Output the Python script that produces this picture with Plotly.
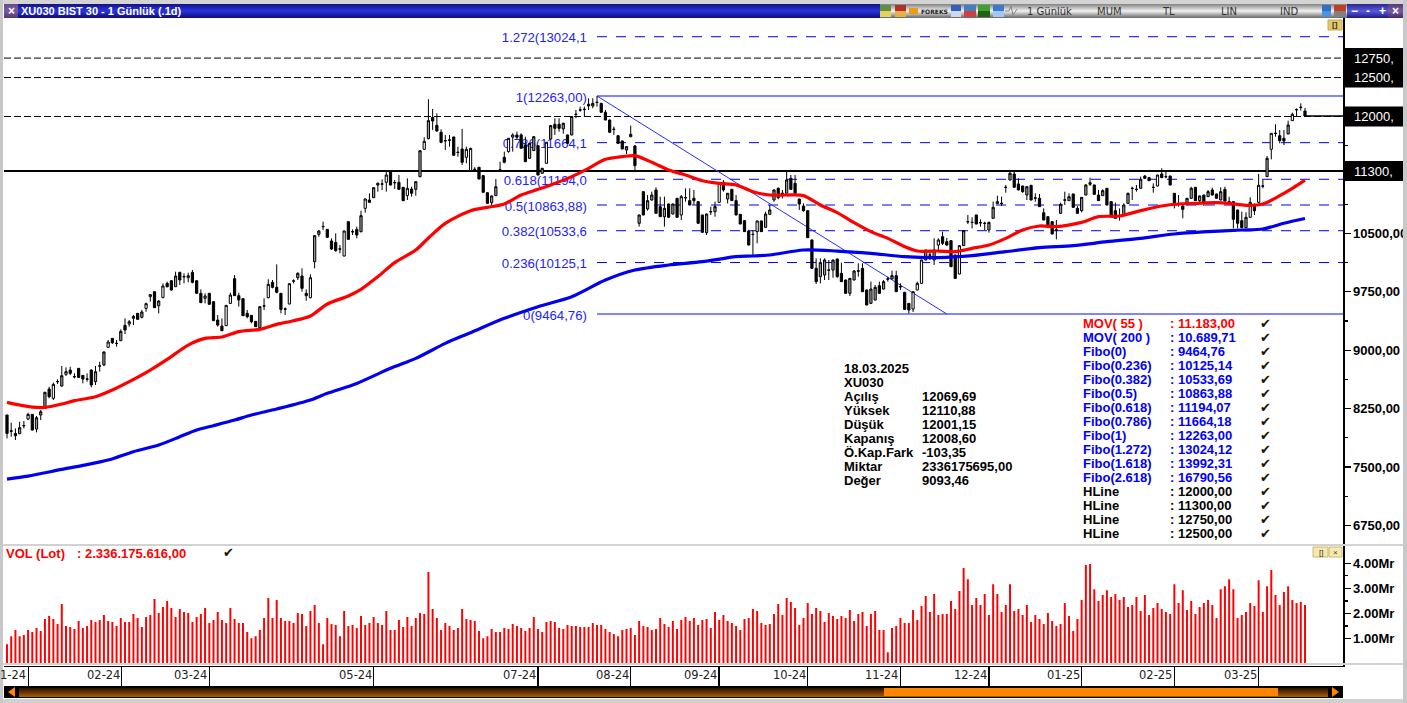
import plotly.graph_objects as go

W, H = 1407, 703

opens = [8168,7965,7932,7928,8028,8116,8176,7988,8168,8253,
8501,8382,8594,8540,8690,8745,8662,8767,8677,8632,
8745,8596,8795,8810,9037,9152,9090,9122,9319,9336,
9409,9473,9422,9537,9687,9751,9571,9678,9858,9892,
9815,9999,9946,9931,9999,9892,9730,9666,9730,9623,
9387,9310,9315,9601,9918,9700,9661,9473,9447,9370,
9289,9565,9674,9871,9807,9730,9531,9593,9886,9931,
9952,9730,9674,10136,10487,10584,10551,10402,10384,10301,
10209,10650,10523,10551,10521,10821,10928,10958,11120,11131,
11155,11292,11153,11155,11091,10984,11069,11065,11228,11579,
11716,11989,11887,11797,11692,11700,11737,11542,11583,11476,
11305,11324,11348,11241,11022,10894,10984,11311,11476,11549,
11735,11763,11763,11634,11463,11562,11626,11271,11399,11711,
11900,11900,11840,11763,11763,12030,12086,12094,12157,12135,
12184,12169,12054,11955,11838,11754,11686,11570,11741,11622,
10629,11035,10813,10928,11057,10843,10714,10877,10748,10950,
10736,10960,10920,10950,10907,10736,10509,10780,10778,10898,
11155,10941,11065,10920,10744,10663,10530,10489,10522,10659,
10577,10744,10928,11078,11016,11014,11206,11142,10941,10851,
10791,10415,10051,9944,9965,10031,10029,10171,9987,9901,
9730,9901,10019,10051,9773,9601,9644,9828,9785,9916,
9914,9957,9817,9743,9601,9529,9773,9858,10158,10224,
10158,10350,10457,10393,10406,10222,9978,10342,10652,10643,
10736,10639,10631,10543,10693,10881,10887,11093,11185,11262,
11134,11108,10992,11117,10956,10950,10765,10714,10650,10545,
10757,10930,10920,11005,10821,10791,10992,11129,11121,10992,
10984,11078,10907,10791,10725,10736,10885,11080,11067,11078,
11236,11215,11093,11108,11262,11230,11236,11014,10879,10851,
10885,10950,11091,10920,10992,10971,11057,11005,10928,11065,
10909,10907,10800,10663,10573,10706,10851,10898,11110,11228,
11579,11786,11754,11720,11776,11947,12090,12120,12069]

highs = [8170,8069,7996,8082,8091,8198,8180,8155,8232,8467,
8531,8583,8626,8797,8780,8788,8703,8772,8681,8703,
8754,8797,8852,8985,9131,9155,9131,9268,9409,9387,
9452,9478,9516,9610,9721,9756,9644,9858,9880,9901,
10008,10008,9987,9995,10029,9896,9781,9730,9735,9628,
9452,9409,9580,9738,9965,9738,9666,9516,9452,9375,
9567,9666,9910,9901,10102,9735,9550,9858,9910,10000,
10051,9781,9974,10479,10543,10650,10556,10436,10500,10350,
10535,10655,10551,10586,10791,10949,11014,11090,11155,11193,
11313,11300,11185,11249,11095,11206,11099,11168,11570,11733,
12221,12096,12041,11835,11763,11763,11741,11613,11840,11613,
11600,11350,11352,11245,11026,10985,11198,11420,11549,11725,
11784,11806,11784,11741,11660,11745,11630,11340,11673,11887,
11977,11977,11920,11768,12005,12084,12127,12127,12234,12234,
12263,12174,12084,11960,11870,11758,11690,11618,11883,11634,
10740,11040,10992,11035,11091,10971,10971,10881,10881,10954,
10992,11078,11078,11057,10912,10740,10753,10843,10907,11146,
11185,11018,11070,10992,10748,10667,10545,10543,10663,10663,
10778,10864,11065,11090,11057,11292,11249,11249,10945,10885,
10795,10423,10179,10179,10179,10158,10162,10175,10124,9905,
9926,10029,10115,10115,9777,9880,9837,9880,9901,9944,
10021,10021,9858,9748,9605,9756,9880,10162,10290,10286,
10436,10436,10522,10440,10411,10227,10346,10543,10736,10706,
10740,10680,10650,10650,10907,10984,10971,11121,11292,11292,
11206,11113,11104,11121,11014,11005,10821,10718,10654,10671,
10894,11035,11014,11010,10850,10967,11134,11215,11126,11057,
11065,11083,10912,10894,10821,10885,11022,11099,11121,11228,
11249,11225,11142,11253,11335,11292,11241,11018,10992,10885,
10954,11099,11095,10985,10997,11057,11087,11010,11091,11099,
10971,10912,10804,10778,10770,10962,10885,11262,11185,11493,
11788,11900,11827,11827,11947,12050,12105,12169,12110]

lows = [7868,7889,7847,7924,7996,8103,7970,7945,8103,8245,
8382,8360,8566,8531,8668,8681,8638,8648,8574,8596,
8523,8553,8724,8797,9032,9079,9045,9118,9208,9302,
9323,9392,9409,9494,9623,9542,9473,9666,9807,9764,
9812,9837,9858,9871,9858,9726,9606,9601,9585,9375,
9302,9246,9310,9593,9696,9559,9439,9409,9345,9298,
9276,9516,9666,9794,9730,9473,9452,9589,9858,9901,
9751,9636,9666,10051,10457,10543,10445,10286,10265,10243,
10205,10419,10479,10436,10513,10765,10894,10954,11035,11056,
11035,11116,11069,11056,10915,10928,10971,10984,11219,11570,
11707,11827,11805,11656,11570,11613,11498,11484,11377,11399,
11300,11292,11194,11023,10881,10851,10980,11292,11399,11536,
11549,11707,11588,11416,11459,11558,11245,11266,11395,11707,
11763,11805,11780,11652,11758,11977,12062,11998,12084,12105,
12127,12050,11951,11793,11763,11652,11579,11519,11733,11313,
10586,10732,10791,10920,10753,10710,10586,10700,10744,10702,
10671,10907,10860,10870,10625,10509,10479,10736,10714,10894,
11035,10885,10916,10732,10616,10518,10346,10222,10372,10518,
10573,10740,10907,10937,10950,11010,11060,11010,10800,10778,
10440,10047,9850,9858,9901,9901,9930,9930,9876,9726,
9695,9897,9944,9747,9576,9597,9640,9726,9780,9880,
9910,9747,9773,9520,9473,9490,9769,9854,10154,10158,
10094,10286,10350,10340,10068,9918,9974,10338,10620,10564,
10616,10586,10543,10509,10689,10877,10851,11022,11180,11087,
11053,11020,10928,10924,10907,10839,10667,10603,10488,10423,
10753,10864,10916,10830,10753,10770,10988,11108,10997,10916,
10980,10860,10732,10689,10663,10732,10881,10928,11035,11074,
11200,11172,11022,11104,11210,11206,11117,10821,10843,10693,
10860,10945,10916,10900,10851,10967,10988,10946,10924,10911,
10864,10564,10564,10569,10569,10702,10736,10885,11078,11224,
11450,11741,11656,11634,11772,11943,11998,12075,12001]

closes = [7932,7960,7902,8005,8033,8176,7975,8133,8210,8459,
8403,8561,8598,8673,8724,8703,8658,8651,8630,8628,
8553,8724,8799,8977,9105,9096,9086,9242,9259,9366,
9434,9396,9490,9597,9713,9546,9631,9824,9815,9773,
9952,9901,9942,9957,9871,9730,9610,9696,9589,9379,
9323,9250,9576,9708,9700,9644,9443,9430,9366,9302,
9559,9569,9845,9807,9743,9524,9527,9854,9890,9987,
9794,9700,9931,10470,10530,10588,10449,10299,10277,10297,
10530,10423,10519,10479,10727,10941,10898,11086,11142,11135,
11249,11120,11149,11065,10919,11078,11014,11163,11561,11681,
11947,11942,11814,11668,11688,11696,11502,11538,11412,11579,
11591,11320,11198,11027,10885,10980,11099,11315,11412,11720,
11763,11733,11592,11420,11656,11741,11249,11335,11669,11883,
11848,11848,11913,11656,12000,12026,12082,12090,12135,12169,
12180,12054,11955,11797,11834,11656,11583,11613,11771,11369,
10736,10736,10920,10992,10757,10714,10821,10706,10877,10706,
10971,10956,10864,10920,10629,10513,10748,10776,10843,11142,
11057,11014,10920,10736,10620,10522,10350,10485,10659,10522,
10748,10800,11057,10958,11012,11185,11065,11014,10877,10791,
10445,10051,9880,10124,10158,10027,10158,9944,9880,9730,
9922,10017,10015,9751,9580,9785,9807,9730,9880,9912,
9957,9751,9813,9524,9516,9751,9858,10158,10286,10220,
10286,10415,10372,10350,10072,9922,10342,10534,10648,10639,
10620,10635,10627,10641,10834,10907,10883,11089,11271,11091,
11057,11035,11099,10928,10952,10843,10671,10607,10492,10541,
10873,10926,10971,10834,10757,10962,11121,11151,11001,10920,
11048,10864,10736,10693,10721,10864,11014,11076,11063,11194,
11206,11176,11089,11249,11215,11226,11121,10877,10875,10808,
10950,11078,10920,10980,10894,11035,10992,10950,11035,10915,
10905,10680,10629,10573,10706,10898,10791,11117,11106,11463,
11784,11782,11690,11686,11891,12028,12086,12116,12008]

# up-candles whose narrow body reads as grey in the picture
grey_bars = {3,7,8,9,13,21,23,27,32,36,40,60,69,73,74,84,87,88,97,98,100,115,116,124,125,127,129,132,134,
             139,147,148,150,152,153,156,158,166,168,171,180,181,182,185,193,194,196,200,201,205,206,208,210,
             218,220,227,233,234,238,242,250,252,255,256,260,265,266,269,280,281,283,285,288,294,299,304}

volumes = [.78,1.10,1.34,1.10,1.14,1.34,1.26,1.42,1.30,1.78,1.90,1.78,1.58,2.38,1.50,1.46,1.38,1.70,1.42,1.50,
1.74,1.66,1.74,1.94,1.70,1.66,1.50,1.82,1.66,1.66,1.98,1.82,1.46,1.86,1.94,2.58,2.02,2.26,2.50,2.22,
1.86,2.18,2.06,2.02,1.66,1.86,1.98,2.22,1.62,1.74,2.06,1.74,1.62,2.22,1.78,1.62,1.62,1.26,1.02,1.10,
1.34,1.82,2.62,1.82,2.54,1.82,1.70,1.70,1.62,2.02,1.98,1.50,2.10,2.34,1.62,.78,1.82,1.58,1.54,1.10,
2.10,1.50,1.54,1.42,1.90,1.54,1.62,1.86,1.62,1.54,2.10,1.34,1.34,1.74,1.46,1.86,1.50,1.82,2.02,1.98,
3.65,2.18,1.82,1.34,1.62,1.50,1.34,1.42,2.18,1.78,
1.74,1.70,1.30,1.02,1.10,1.38,1.26,1.26,1.42,1.38,
1.58,1.50,1.42,1.30,1.42,1.86,1.38,1.26,1.66,1.70,
1.66,1.42,1.38,1.54,1.50,1.50,1.46,1.46,1.46,1.62,
1.54,1.54,1.38,1.26,1.18,1.10,1.34,1.38,1.42,1.14,
1.70,1.50,1.46,1.34,1.38,1.82,1.58,1.46,1.70,1.38,
1.74,1.86,1.70,1.82,1.54,1.74,1.78,1.42,2.06,1.74,
1.94,1.70,1.62,1.50,1.34,1.78,1.82,2.18,2.10,1.62,
1.54,1.58,1.98,2.38,1.94,2.62,2.46,2.22,1.54,1.82,
2.42,1.98,2.22,2.10,1.66,2.02,1.90,1.78,1.90,1.82,
2.14,1.70,1.98,2.06,1.50,1.98,2.10,1.34,1.34,.46,
1.42,1.50,1.82,1.62,1.62,2.14,1.74,2.30,2.70,2.06,
2.78,1.94,
1.98,1.98,2.50,2.18,2.90,3.81,3.37,2.34,2.62,2.34,
2.78,1.94,3.17,2.78,2.06,2.34,3.17,2.10,2.18,1.94,
2.34,1.66,1.94,1.78,1.58,2.02,1.70,1.50,1.58,2.42,
1.90,1.30,1.78,2.54,3.93,3.97,2.97,2.50,2.74,2.93,
2.66,2.78,2.54,2.66,2.26,2.34,2.66,2.10,2.74,1.94,
2.22,2.42,2.18,2.06,1.98,3.17,2.42,2.93,2.14,2.50,
1.98,2.26,2.42,2.54,2.34,1.82,2.97,3.09,3.37,2.97,
1.82,1.94,2.06,2.42,2.30,3.33,2.06,3.09,3.73,2.74,
2.34,2.86,3.09,2.54,2.42,2.46,2.34]

mov55_bar = [0,3,6,9,13,16,21,25,29,34,38,43,47,51,55,60,64,68,72,76,81,84,88,92,97,100,104,110,114,118,122,126,
129,134,138,142,146,149,153,157,161,165,169,173,177,181,185,189,193,197,201,205,209,213,216,221,225,229,233,237,
241,245,249,255,259,264,269,274,278,282,287,290,294,298,302,305,308]
mov55_val = [8330,8296,8270,8266,8309,8352,8403,8489,8596,8745,8882,9066,9152,9169,9238,9268,9332,9379,9439,9593,
9696,9781,9944,10124,10286,10440,10628,10791,10834,10877,10992,11065,11121,11228,11335,11450,11485,11497,11412,
11313,11249,11176,11142,11121,11035,10992,10992,10984,10864,10766,10637,10522,10436,10329,10273,10273,10265,
10308,10350,10436,10543,10594,10586,10641,10714,10723,10791,10851,10877,10885,10894,10885,10860,10877,10984,
11078,11183]

mov200_bar = [0,5,13,18,24,30,36,41,45,49,54,58,64,72,76,83,91,97,104,110,118,126,134,142,149,157,165,173,177,181,
189,197,205,213,221,229,237,245,253,261,269,277,285,293,298,303,308]
mov200_val = [7345,7384,7470,7521,7590,7697,7782,7889,7975,8031,8103,8168,8245,8360,8446,8574,8767,8895,9088,9225,
9409,9559,9687,9901,10029,10094,10136,10201,10209,10222,10286,10273,10243,10201,10188,10213,10265,10316,10342,
10393,10436,10492,10522,10543,10556,10629,10690]

fib_labels = ["1.272(13024,1", "1(12263,00)", "0.786(11664,1", "0.618(11194,0", "0.5(10863,88)",
              "0.382(10533,6", "0.236(10125,1", "0(9464,76)"]
fib_values = [13024.12, 12263.00, 11664.18, 11194.07, 10863.88, 10533.69, 10125.14, 9464.76]
fib_solid = {12263.00, 9464.76}
fib_start_bar = 140
fib_label_bar = 137.6
fib_diag_end_bar = 223

hline_dashed = [12750, 12500, 12000]
hline_solid = [11300]
boxed_levels = [12750, 12500, 12000, 11300]
boxed_labels = ["12750,", "12500,", "12000,", "11300,"]

price_ticks = [10500, 9750, 9000, 8250, 7500, 6750]
price_labels = ["10500,00", "9750,00", "9000,00", "8250,00", "7500,00", "6750,00"]
price_minor = [7125, 7875, 8625, 9375, 10125, 10875, 11625]
vol_ticks = [1, 2, 3, 4]
vol_labels = ["1.00Mr", "2.00Mr", "3.00Mr", "4.00Mr"]
vol_minor = [1.5, 2.5, 3.5]

month_bars = [5.1, 27.2, 48, 87, 126, 148, 169, 190, 212, 233, 255, 277, 297]
month_labels = ["1-24", "02-24", "03-24", "05-24", "07-24", "08-24", "09-24", "10-24", "11-24", "12-24", "01-25", "02-25", "03-25"]

legend_names = ["MOV( 55 )", "MOV( 200 )", "Fibo(0)", "Fibo(0.236)", "Fibo(0.382)", "Fibo(0.5)", "Fibo(0.618)", "Fibo(0.786)",
                "Fibo(1)", "Fibo(1.272)", "Fibo(1.618)", "Fibo(2.618)", "HLine", "HLine", "HLine", "HLine"]
legend_values = [": 11.183,00", ": 10.689,71", ": 9464,76", ": 10125,14", ": 10533,69", ": 10863,88", ": 11194,07", ": 11664,18",
                 ": 12263,00", ": 13024,12", ": 13992,31", ": 16790,56", ": 12000,00", ": 11300,00", ": 12750,00", ": 12500,00"]
legend_colors = ["#ff0000"] + ["#0000ff"] * 11 + ["#000000"] * 4

info_names = ["18.03.2025", "XU030", "Açılış", "Yüksek", "Düşük", "Kapanış", "Ö.Kap.Fark", "Miktar", "Değer"]
info_values = ["", "", "12069,69", "12110,88", "12001,15", "12008,60", "-103,35", "2336175695,00", "9093,46"]

n = len(opens)
assert len(highs) == n and len(lows) == n and len(closes) == n and len(volumes) == n
bars = list(range(n))
BAR_PX = (1305 - 7) / (n - 1)
x_left = (4 - 7) / BAR_PX
x_right = (1343 - 7) / BAR_PX
PX_PER_UNIT = 0.0779
y_of_px = lambda p: 12000 + (116.5 - p) / PX_PER_UNIT


def px(x):
    return x / W


def py(y):
    return 1 - y / H


shapes, annos = [], []


def rect(x0, y0, x1, y1, fill, line=None, layer="above"):
    shapes.append(dict(type="rect", xref="paper", yref="paper", x0=px(x0), x1=px(x1), y0=py(y0), y1=py(y1),
                       fillcolor=fill, line=dict(width=1 if line else 0, color=line or fill), layer=layer))


def hexmix(a, b, t):
    ca = [int(a[i:i + 2], 16) for i in (1, 3, 5)]
    cb = [int(b[i:i + 2], 16) for i in (1, 3, 5)]
    return "#%02x%02x%02x" % tuple(round(p + (q - p) * t) for p, q in zip(ca, cb))


def band(x0, x1, y0, y1, top, mid, bot):
    steps = int(y1 - y0)
    for k in range(steps):
        t = k / max(steps - 1, 1)
        c = hexmix(top, mid, t * 2) if t < 0.5 else hexmix(mid, bot, (t - 0.5) * 2)
        rect(x0, y0 + k, x1, y0 + k + 1, c)


def text(x, y, s, size=13, color="#000000", bold=False, family="Liberation Sans", anchor="left"):
    annos.append(dict(xref="paper", yref="paper", x=px(x), y=py(y), text=f"<b>{s}</b>" if bold else s,
                      showarrow=False, xanchor=anchor, yanchor="middle", borderpad=0,
                      font=dict(size=size, color=color, family=family)))


# horizontal studies, beneath the candles
for lv in hline_dashed:
    shapes.append(dict(type="line", xref="x", yref="y", x0=x_left, x1=x_right, y0=lv, y1=lv, layer="below",
                       line=dict(color="#000000", width=1, dash="7px,3px")))
for lv in hline_solid:
    shapes.append(dict(type="line", xref="x", yref="y", x0=x_left, x1=x_right, y0=lv, y1=lv, layer="below",
                       line=dict(color="#000000", width=2)))
for lab, lv in zip(fib_labels, fib_values):
    solid = lv in fib_solid
    shapes.append(dict(type="line", xref="x", yref="y", x0=fib_start_bar, x1=x_right, y0=lv, y1=lv, layer="below",
                       line=dict(color="#5a5aff" if solid else "#0000e0", width=1.5 if solid else 1,
                                 dash="solid" if solid else "10px,9px")))
    shapes.append(dict(type="line", xref="x", yref="y", x0=fib_label_bar, x1=fib_start_bar, y0=lv, y1=lv, layer="below",
                       line=dict(color="rgba(0,0,0,0)", width=0),
                       label=dict(text=lab, textposition="start", xanchor="right", yanchor="middle",
                                  font=dict(size=13.2, color="#2222ff", family="Liberation Sans"))))
shapes.append(dict(type="line", xref="x", yref="y", x0=fib_start_bar, x1=fib_diag_end_bar, y0=fib_values[1], y1=fib_values[-1],
                   layer="below", line=dict(color="#2a2aff", width=1)))

fig = go.Figure()

groups = [
    ([i for i in bars if closes[i] < opens[i]], "#000000"),
    ([i for i in bars if closes[i] >= opens[i] and i not in grey_bars], "#ffffff"),
    ([i for i in bars if closes[i] >= opens[i] and i in grey_bars], "#999999"),
]
for idx, fill in groups:
    fig.add_trace(go.Candlestick(
        x=idx, open=[opens[i] for i in idx], high=[highs[i] for i in idx], low=[lows[i] for i in idx],
        close=[closes[i] for i in idx], whiskerwidth=0, xaxis="x", yaxis="y", showlegend=False,
        increasing=dict(line=dict(color="#000000", width=1), fillcolor=fill),
        decreasing=dict(line=dict(color="#000000", width=1), fillcolor=fill)))

fig.add_trace(go.Scatter(x=mov200_bar, y=mov200_val, mode="lines", showlegend=False,
                         line=dict(color="#0000ee", width=3.2, shape="spline", smoothing=0.8)))
fig.add_trace(go.Scatter(x=mov55_bar, y=mov55_val, mode="lines", showlegend=False,
                         line=dict(color="#ff0000", width=3.2, shape="spline", smoothing=0.8)))
fig.add_trace(go.Scatter(x=[bars[-1], x_right], y=[closes[-1], closes[-1]], mode="lines", showlegend=False,
                         line=dict(color="#000000", width=1.5)))
fig.add_trace(go.Bar(x=bars, y=volumes, xaxis="x", yaxis="y2", width=0.47, showlegend=False,
                     marker=dict(color="#ff0000", line=dict(width=0))))

# separators and frame
rect(0, 544, 1403, 546, "#d2d2d2")
rect(0, 663, 1403, 665, "#d2d2d2")
rect(0, 0, W, 4, "#d4d4d4")
rect(0, 699, W, 703, "#d0d0d0")
rect(0, 0, 3, H, "#c8c8c8")
rect(1403, 0, W, H, "#c8c8c8")

# title strip
band(4, 880, 4, 18, "#14148c", "#2a34e0", "#0e0e78")
band(880, 1347, 4, 18, "#8a8a8a", "#f2f2f2", "#707070")
band(4, 18, 4, 18, "#6a4a90", "#7a5aa0", "#553a78")
band(1347, 1388, 4, 18, "#2c2c90", "#5a5ae0", "#20208a")
band(1388, 1403, 4, 18, "#5a3a80", "#7a5aa0", "#4a2a70")
text(11, 11, "×", 12, "#ffffff", True, anchor="center")
text(19.5, 11, "XU030 BIST 30 - 1 Günlük (.1d)", 11, "#ffffff", True)
for cx, s in zip([1354, 1368, 1382, 1395], ["−", "-", "+", "×"]):
    text(cx, 11, s, 12, "#ffffff", True, anchor="center")
for cx, s in zip([1049, 1109, 1168, 1229, 1289], ["1 Günlük", "MUM", "TL", "LIN", "IND"]):
    text(cx, 11, s, 10, "#333333", False, "DejaVu Sans", "center")
text(934, 11, "FOREKS", 6, "#222222", True, "DejaVu Sans", "center")
for x0, x1, c1, c2 in [(880, 891, "#5f8f3f", "#e8d060"), (895, 906, "#b03030", "#e8b040"), (951, 961, "#3060c0", "#d0d8f0"),
                       (964, 976, "#4080c0", "#d04040"), (978, 990, "#40a030", "#206010"), (993, 1004, "#3a7ad0", "#a0c8f0"),
                       (1322, 1331, "#3070c0", "#5090e0"), (1334, 1346, "#c04020", "#808080")]:
    rect(x0, 5, x1, 11, c1)
    rect(x0, 11, x1, 17, c2)
rect(909, 8, 918, 14, "#f09a10")
shapes.append(dict(type="path", xref="paper", yref="paper", layer="above",
                   path=f"M{px(1005)},{py(11)} L{px(1009)},{py(11)} L{px(1011)},{py(6)} L{px(1013)},{py(15)} L{px(1017)},{py(9)}",
                   line=dict(color="#808890", width=1)))

# chart buttons
rect(1328, 20, 1342, 30, "#e6c868", "#c8a850")
text(1335, 25, "[]", 8, "#333333", True, anchor="center")
for x0, x1, s in [(1313, 1328, "[]"), (1329, 1342, "×")]:
    rect(x0, 547, x1, 557, "#f6e9b0", "#d0b870")
    text((x0 + x1) / 2, 552, s, 8, "#333333", False, anchor="center")

# scroller
rect(4, 686, 1343, 698, "#000000")
band(19, 1328, 688, 697, "#2e1400", "#6a3500", "#a85a00")
rect(884, 688, 1278, 696, "#ff8400")
for d in (f"M{px(15)},{py(687)} L{px(15)},{py(697)} L{px(8)},{py(692)} Z",
          f"M{px(1332)},{py(687)} L{px(1332)},{py(697)} L{px(1339)},{py(692)} Z"):
    shapes.append(dict(type="path", xref="paper", yref="paper", layer="above", path=d,
                       fillcolor="#ff8400", line=dict(width=0)))

# boxed price levels
half_box = 10 / PX_PER_UNIT
for lv, s in zip(boxed_levels, boxed_labels):
    shapes.append(dict(type="rect", xref="paper", yref="y", x0=px(1345), x1=px(1403), y0=lv - half_box, y1=lv + half_box,
                       fillcolor="#000000", line=dict(width=0), layer="above"))
    annos.append(dict(xref="paper", yref="y", x=px(1352.5), y=lv, text=s, showarrow=False, xanchor="left", yanchor="middle",
                      borderpad=0, font=dict(size=13, color="#ffffff", family="Liberation Sans")))

# month labels
for b, s in zip(month_bars, month_labels):
    annos.append(dict(xref="x", yref="paper", x=b, y=py(675), text=s, showarrow=False, xanchor="right", yanchor="middle",
                      borderpad=1, font=dict(size=11.5, color="#222222", family="DejaVu Sans")))

# legend block
for k, (a, b, c) in enumerate(zip(legend_names, legend_values, legend_colors)):
    y = 323.5 + 14 * k
    text(1082, y, a, 13, c, True)
    text(1168.5, y, b, 13, c, True)
    text(1265, y, "✔", 13, "#1a1400", True, "DejaVu Sans", "center")

# info block
for k, (a, b) in enumerate(zip(info_names, info_values)):
    y = 368.5 + 14 * k
    text(843, y, a, 13, "#000000", True)
    if b:
        text(921, y, b, 13, "#000000", True)

text(5, 553, "VOL (Lot)", 13, "#ff0000", True)
text(76, 553, ": 2.336.175.616,00", 13, "#ff0000", True)
text(228, 552, "✔", 13, "#1a1400", True, "DejaVu Sans", "center")

tick_font = dict(size=13, color="#000000", family="Liberation Sans", weight=700)

fig.update_layout(
    width=W, height=H, margin=dict(l=0, r=0, t=0, b=0), autosize=False,
    paper_bgcolor="#ffffff", plot_bgcolor="#ffffff", hovermode=False, dragmode=False,
    showlegend=False, bargap=0.5, boxmode="overlay", boxgap=0.25,
    shapes=shapes, annotations=annos,
    xaxis=dict(domain=[px(4), px(1343)], range=[x_left, x_right], anchor="y2", rangeslider=dict(visible=False),
               showgrid=False, zeroline=False, showline=True, linecolor="#000000", linewidth=1.5,
               tickmode="array", tickvals=month_bars, ticktext=[""] * len(month_bars), ticks="outside", ticklen=20,
               tickwidth=1.5, tickcolor="#000000"),
    yaxis=dict(domain=[py(546), py(18)], range=[y_of_px(546), y_of_px(18)], anchor="x", side="right",
               showgrid=False, zeroline=False, showline=True, linecolor="#000000", linewidth=1.5,
               tickmode="array", tickvals=price_ticks, ticktext=price_labels, ticks="outside", ticklen=6,
               tickwidth=1.2, tickcolor="#000000", tickfont=tick_font,
               minor=dict(tickmode="array", tickvals=price_minor, ticks="outside", ticklen=3, tickwidth=1.2, tickcolor="#000000")),
    yaxis2=dict(domain=[py(665.5), py(546)], range=[-0.07, 4.69], anchor="x", side="right",
                showgrid=False, zeroline=False, showline=True, linecolor="#000000", linewidth=1.5,
                tickmode="array", tickvals=vol_ticks, ticktext=vol_labels, ticks="outside", ticklen=6,
                tickwidth=1.2, tickcolor="#000000", tickfont=tick_font,
                minor=dict(tickmode="array", tickvals=vol_minor, ticks="outside", ticklen=3, tickwidth=1.2, tickcolor="#000000")),
)

fig.write_html("out.html", config={"displayModeBar": False, "staticPlot": True},
               post_script="document.body.style.margin='0';document.body.style.overflow='hidden';")
